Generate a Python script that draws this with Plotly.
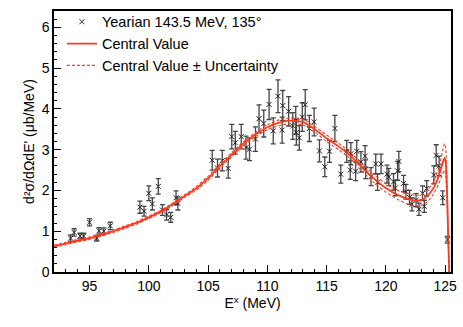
import plotly.graph_objects as go

# Yearian 143.5 MeV, 135 deg data
E_DATA = [93.4, 93.7, 94.2, 94.5, 95.0, 95.6, 95.8, 96.2, 96.75,
          99.25, 99.6, 100.0, 100.3, 100.8, 101.15, 101.5, 101.85, 102.3, 102.45,
          105.35, 105.8, 106.2, 106.7, 107.0, 107.3, 107.8, 108.2, 108.5, 109.0,
          109.3, 109.7, 110.15, 110.5, 110.9, 111.25, 111.3, 111.8, 112.15, 112.4,
          112.45, 112.7, 112.95, 113.2, 113.55, 113.95, 114.4, 114.85, 115.25, 115.7,
          116.2, 116.7, 117.0, 117.05, 117.45, 117.55, 117.9, 118.25, 118.3, 118.75,
          119.15, 119.3, 119.6, 120.1, 120.25, 120.65, 120.8, 121.0, 121.1, 121.5,
          121.7, 122.0, 122.2, 122.55, 122.8, 123.1, 123.25, 123.45, 124.05, 124.25,
          124.5, 124.8, 125.2]
XS_DATA = [0.83, 0.97, 0.88, 0.88, 1.22, 0.83, 1.01, 1.00, 1.13,
           1.59, 1.49, 1.93, 1.67, 2.10, 1.52, 1.40, 1.34, 1.82, 1.68,
           2.74, 2.55, 2.73, 2.54, 3.32, 3.17, 3.32, 3.05, 3.01, 3.26,
           3.76, 3.64, 4.11, 3.46, 4.31, 3.48, 4.08, 3.94, 3.58, 3.72,
           3.42, 3.29, 3.80, 4.10, 3.52, 3.68, 2.97, 2.58, 2.96, 3.52,
           2.40, 2.96, 2.50, 2.90, 2.47, 2.96, 2.70, 2.84, 2.52, 2.34,
           2.65, 2.20, 2.65, 2.40, 2.33, 2.21, 2.06, 2.48, 2.71, 2.17,
           1.97, 1.83, 1.66, 1.76, 1.54, 1.93, 1.61, 2.05, 2.38, 2.86,
           2.60, 1.82, 0.79]
XS_ERR = [0.08, 0.09, 0.07, 0.07, 0.09, 0.07, 0.08, 0.08, 0.09,
          0.15, 0.12, 0.18, 0.15, 0.19, 0.13, 0.13, 0.12, 0.17, 0.16,
          0.24, 0.22, 0.25, 0.24, 0.30, 0.28, 0.30, 0.28, 0.28, 0.30,
          0.34, 0.33, 0.37, 0.32, 0.40, 0.32, 0.37, 0.36, 0.33, 0.34,
          0.31, 0.30, 0.35, 0.37, 0.32, 0.34, 0.27, 0.24, 0.27, 0.32,
          0.22, 0.27, 0.23, 0.27, 0.23, 0.27, 0.25, 0.26, 0.23, 0.22,
          0.24, 0.20, 0.24, 0.22, 0.21, 0.20, 0.19, 0.23, 0.25, 0.20,
          0.18, 0.17, 0.16, 0.16, 0.15, 0.18, 0.15, 0.19, 0.22, 0.26,
          0.24, 0.17, 0.08]

# central value and uncertainty band
E_CURVE = [92, 93, 94, 95, 96, 97, 98, 99, 100, 101, 102, 103, 104, 105, 106,
           107, 108, 109, 110, 111, 112, 113, 114, 115, 116, 117, 118, 119, 120,
           121, 122, 122.5, 123, 123.5, 124, 124.5, 124.8, 124.95, 125.05, 125.15,
           125.25, 125.35]
XS_CENTRAL = [0.63, 0.70, 0.77, 0.83, 0.91, 1.00, 1.10, 1.21, 1.34, 1.48, 1.66,
              1.86, 2.05, 2.30, 2.60, 2.88, 3.15, 3.37, 3.55, 3.66, 3.71, 3.68,
              3.50, 3.28, 3.08, 2.86, 2.56, 2.29, 2.06, 1.89, 1.78, 1.75, 1.77,
              1.86, 2.05, 2.38, 2.68, 2.80, 2.70, 2.10, 1.00, 0.0]
XS_UPPER = [0.66, 0.73, 0.80, 0.86, 0.94, 1.03, 1.13, 1.24, 1.37, 1.51, 1.69,
            1.89, 2.09, 2.35, 2.65, 2.93, 3.20, 3.42, 3.61, 3.73, 3.78, 3.75,
            3.57, 3.36, 3.16, 2.94, 2.65, 2.39, 2.16, 2.00, 1.91, 1.88, 1.90,
            2.00, 2.20, 2.58, 2.98, 3.15, 3.05, 2.40, 1.20, 0.0]
XS_LOWER = [0.60, 0.67, 0.74, 0.80, 0.88, 0.97, 1.07, 1.18, 1.31, 1.45, 1.63,
            1.83, 2.01, 2.25, 2.55, 2.83, 3.10, 3.32, 3.49, 3.59, 3.64, 3.61,
            3.43, 3.20, 3.00, 2.78, 2.47, 2.19, 1.96, 1.78, 1.65, 1.62, 1.64,
            1.72, 1.90, 2.18, 2.40, 2.50, 2.40, 1.85, 0.85, 0.0]

RED = "#ff3a1e"
FONT = {"family": "Liberation Sans, Arial, Helvetica, sans-serif", "color": "black"}
LINE_SHAPE = {"shape": "spline", "smoothing": 0.5}

fig = go.Figure()
fig.add_trace(go.Scatter(
    x=E_DATA, y=XS_DATA, mode="markers", name="Yearian 143.5 MeV, 135°",
    marker={"symbol": "x-thin", "size": 5, "color": "black",
            "line": {"color": "#222222", "width": 1}},
    error_y={"type": "data", "array": XS_ERR, "color": "#444444",
             "thickness": 1.3, "width": 2.5},
))
fig.add_trace(go.Scatter(
    x=E_CURVE, y=XS_CENTRAL, mode="lines", name="Central Value",
    line={"color": RED, "width": 1.8, **LINE_SHAPE},
))
fig.add_trace(go.Scatter(
    x=E_CURVE, y=XS_UPPER, mode="lines", name="Central Value ± Uncertainty",
    line={"color": RED, "width": 1.1, "dash": "3px,2px", **LINE_SHAPE},
))
fig.add_trace(go.Scatter(
    x=E_CURVE, y=XS_LOWER, mode="lines", showlegend=False,
    line={"color": RED, "width": 1.1, "dash": "3px,2px", **LINE_SHAPE},
))

axis_common = dict(
    showgrid=False, zeroline=False, showline=True, linecolor="black",
    linewidth=1.5, mirror=True, ticks="inside", tickcolor="black",
    tickfont={"size": 14}, title_font={"size": 14},
)
fig.update_layout(
    width=463, height=327,
    margin={"l": 54, "r": 6, "t": 7, "b": 55},
    plot_bgcolor="white", paper_bgcolor="white",
    font=FONT,
    showlegend=True,
    legend={"x": 0.02, "y": 1.02, "xanchor": "left", "yanchor": "top",
            "bgcolor": "rgba(0,0,0,0)", "font": {"size": 14.5},
            "itemwidth": 30},
    xaxis=dict(
        **axis_common, range=[92, 125.5], dtick=5, ticklen=7,
        minor={"dtick": 1, "ticks": "inside", "ticklen": 3.5, "tickcolor": "black"},
        title={"text": "E<sup>x</sup> (MeV)", "standoff": 6},
    ),
    yaxis=dict(
        **axis_common, range=[0, 6.4], dtick=1, ticklen=7,
        minor={"dtick": 0.2, "ticks": "inside", "ticklen": 3.5, "tickcolor": "black"},
        title={"text": "d²σ/dΩdE' (μb/MeV)", "standoff": 4},
    ),
)

fig.write_html("out.html", config={"displayModeBar": False},
               post_script="document.body.style.margin='0';")
